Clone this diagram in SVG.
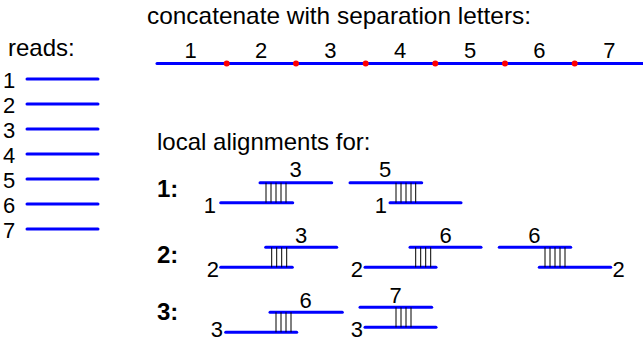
<svg xmlns="http://www.w3.org/2000/svg" width="643" height="342" viewBox="0 0 643 342">
<style>
text{font-family:"Liberation Sans",Arial,sans-serif;font-size:24px;fill:#000}
.n{font-size:22px}
.l{font-size:22px}
.b{font-weight:bold}
.m{text-anchor:middle}
.e{text-anchor:end}
.r{stroke:#0000ff;stroke-width:3;stroke-linecap:round;fill:none}
.h{stroke:#000;stroke-width:1;fill:none}
.d{fill:#ff0000}
</style>
<rect width="643" height="342" fill="#fff"/>
<g id="reads">
<text x="8" y="56">reads:</text>
<text class="n" x="3" y="88">1</text><line class="r" x1="27" y1="79" x2="98" y2="79"/>
<text class="n" x="3" y="113">2</text><line class="r" x1="27" y1="104" x2="98" y2="104"/>
<text class="n" x="3" y="138">3</text><line class="r" x1="27" y1="129" x2="98" y2="129"/>
<text class="n" x="3" y="163">4</text><line class="r" x1="27" y1="154" x2="98" y2="154"/>
<text class="n" x="3" y="188">5</text><line class="r" x1="27" y1="179" x2="98" y2="179"/>
<text class="n" x="3" y="213">6</text><line class="r" x1="27" y1="204" x2="98" y2="204"/>
<text class="n" x="3" y="238">7</text><line class="r" x1="27" y1="229" x2="98" y2="229"/>
</g>
<g id="concat">
<text x="147" y="24" textLength="384" lengthAdjust="spacingAndGlyphs">concatenate with separation letters:</text>
<line class="r" x1="157" y1="63.5" x2="645" y2="63.5"/>
<circle class="d" cx="226.7" cy="63.5" r="3"/>
<circle class="d" cx="296" cy="63.5" r="3"/>
<circle class="d" cx="365.7" cy="63.5" r="3"/>
<circle class="d" cx="435.3" cy="63.5" r="3"/>
<circle class="d" cx="505" cy="63.5" r="3"/>
<circle class="d" cx="574.7" cy="63.5" r="3"/>
<text class="m n" x="190.7" y="58">1</text>
<text class="m n" x="261" y="58">2</text>
<text class="m n" x="330.3" y="58">3</text>
<text class="m n" x="400" y="58">4</text>
<text class="m n" x="470" y="58">5</text>
<text class="m n" x="539.3" y="58">6</text>
<text class="m n" x="609.3" y="58">7</text>
</g>
<text x="157" y="150">local alignments for:</text>
<g id="row1">
<text class="b" x="157" y="197">1:</text>
<g id="a1-3">
<line class="r" x1="260" y1="182.7" x2="331.7" y2="182.7"/>
<line class="r" x1="220.7" y1="202.7" x2="292.7" y2="202.7"/>
<path class="h" d="M266,182.7V202.7M271,182.7V202.7M276,182.7V202.7M281,182.7V202.7M286,182.7V202.7"/>
<text class="m l" x="295.7" y="177">3</text>
<text class="e l" x="216" y="212.7">1</text>
</g>
<g id="a1-5">
<line class="r" x1="350" y1="182.7" x2="421.7" y2="182.7"/>
<line class="r" x1="390" y1="202.7" x2="461" y2="202.7"/>
<path class="h" d="M396,182.7V202.7M401,182.7V202.7M406,182.7V202.7M411,182.7V202.7M415.7,182.7V202.7"/>
<text class="m l" x="385" y="177">5</text>
<text class="e l" x="387" y="212.7">1</text>
</g>
</g>
<g id="row2">
<text class="b" x="157" y="263">2:</text>
<g id="a2-3">
<line class="r" x1="265.7" y1="247.3" x2="336.7" y2="247.3"/>
<line class="r" x1="220.7" y1="267.3" x2="292.3" y2="267.3"/>
<path class="h" d="M271.7,247.3V267.3M276.7,247.3V267.3M281.7,247.3V267.3M286.7,247.3V267.3"/>
<text class="m l" x="301" y="242.7">3</text>
<text class="e l" x="219" y="276.7">2</text>
</g>
<g id="a2-6a">
<line class="r" x1="410" y1="247.3" x2="481" y2="247.3"/>
<line class="r" x1="365" y1="267.3" x2="436" y2="267.3"/>
<path class="h" d="M415.7,247.3V267.3M420.7,247.3V267.3M425.7,247.3V267.3M430.7,247.3V267.3"/>
<text class="m l" x="445.7" y="242.7">6</text>
<text class="e l" x="363" y="276.7">2</text>
</g>
<g id="a2-6b">
<line class="r" x1="499.3" y1="247.3" x2="570.7" y2="247.3"/>
<line class="r" x1="539.3" y1="267.3" x2="610.7" y2="267.3"/>
<path class="h" d="M545,247.3V267.3M550,247.3V267.3M555,247.3V267.3M560,247.3V267.3M565,247.3V267.3"/>
<text class="m l" x="534.3" y="242.7">6</text>
<text class="l" x="612.5" y="276.7">2</text>
</g>
</g>
<g id="row3">
<text class="b" x="157" y="320">3:</text>
<g id="a3-6">
<line class="r" x1="270" y1="312.3" x2="342.3" y2="312.3"/>
<line class="r" x1="225.7" y1="332.3" x2="296.7" y2="332.3"/>
<path class="h" d="M276,312.3V332.3M281,312.3V332.3M286,312.3V332.3M291,312.3V332.3"/>
<text class="m l" x="305.7" y="307.7">6</text>
<text class="e l" x="223" y="337">3</text>
</g>
<g id="a3-7">
<line class="r" x1="360" y1="307.3" x2="431.7" y2="307.3"/>
<line class="r" x1="365" y1="327.3" x2="436" y2="327.3"/>
<path class="h" d="M396,307.3V327.3M401,307.3V327.3M406,307.3V327.3M411,307.3V327.3"/>
<text class="m l" x="395.7" y="302.7">7</text>
<text class="e l" x="363" y="336.5">3</text>
</g>
</g>
</svg>
